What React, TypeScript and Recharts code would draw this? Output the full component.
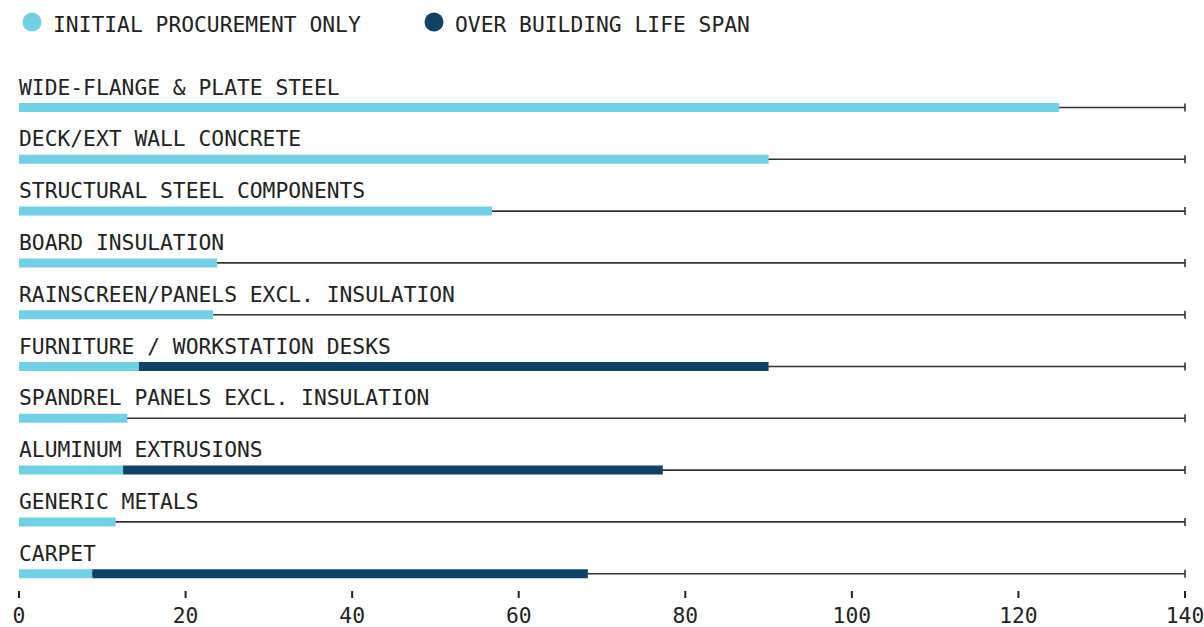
import React from "react";
import { BarChart, Bar, XAxis, YAxis, Legend, LabelList } from "recharts";

const categories = [
  "WIDE-FLANGE & PLATE STEEL",
  "DECK/EXT WALL CONCRETE",
  "STRUCTURAL STEEL COMPONENTS",
  "BOARD INSULATION",
  "RAINSCREEN/PANELS EXCL. INSULATION",
  "FURNITURE / WORKSTATION DESKS",
  "SPANDREL PANELS EXCL. INSULATION",
  "ALUMINUM EXTRUSIONS",
  "GENERIC METALS",
  "CARPET",
];
const initialProcurement = [124.9, 90, 56.8, 23.8, 23.3, 14.4, 13, 12.5, 11.6, 8.8];
const lifeSpan = [124.9, 90, 56.8, 23.8, 23.3, 90, 13, 77.3, 11.6, 68.3];
const xTicks = [0, 20, 40, 60, 80, 100, 120, 140];

const LIGHT = "#72cfe4";
const DARK = "#0f4266";
const INK = "#222";
const FONT = "'DejaVu Sans Mono', 'Liberation Mono', monospace";
const FS = 21.3;

const data = categories.map((name, i) => ({
  name,
  initial: initialProcurement[i],
  extra: lifeSpan[i] - initialProcurement[i],
}));

const RowLine = (props: any) => {
  const { x, y, width, height } = props;
  const cy = y + height / 2;
  return (
    <g>
      <line x1={x} x2={x + width} y1={cy} y2={cy} stroke="#333" strokeWidth={1.6} />
      <line x1={x + width} x2={x + width} y1={cy - 4} y2={cy + 4} stroke="#333" strokeWidth={1.6} />
    </g>
  );
};

const RowLabel = (props: any) => {
  const { x, y, value } = props;
  return (
    <text x={x} y={y - 8.5} fill={INK} fontSize={FS} fontFamily={FONT}>
      {value}
    </text>
  );
};

const AxisTick = (props: any) => {
  const { x, y, payload } = props;
  return (
    <g>
      <line x1={x} x2={x} y1={y - 9} y2={y - 2} stroke={INK} strokeWidth={2} />
      <text x={x} y={y + 23} textAnchor="middle" fill={INK} fontSize={FS} fontFamily={FONT}>
        {payload.value}
      </text>
    </g>
  );
};

const LegendContent = () => {
  const items = [
    { label: "INITIAL PROCUREMENT ONLY", color: LIGHT, x: 32 },
    { label: "OVER BUILDING LIFE SPAN", color: DARK, x: 434 },
  ];
  return (
    <svg width={1204} height={44} style={{ display: "block" }}>
      {items.map((it) => (
        <g key={it.label}>
          <circle cx={it.x} cy={22} r={9.5} fill={it.color} />
          <text x={it.x + 21} y={32} fill={INK} fontSize={FS} fontFamily={FONT}>
            {it.label}
          </text>
        </g>
      ))}
    </svg>
  );
};

export default function App() {
  return (
    <div style={{ position: "absolute", left: 0, top: 0, width: 1204, height: 627, background: "#fff" }}>
      <BarChart
        width={1204}
        height={627}
        data={data}
        layout="vertical"
        margin={{ top: 38, right: 19, bottom: 0, left: 19 }}
        barSize={9}
      >
        <Legend
          verticalAlign="top"
          align="left"
          content={<LegendContent />}
          wrapperStyle={{ top: 0, left: 0, height: 44 }}
        />
        <XAxis
          type="number"
          domain={[0, 140]}
          ticks={xTicks}
          axisLine={false}
          tickLine={false}
          tickSize={0}
          tickMargin={0}
          height={27}
          tick={<AxisTick />}
          interval={0}
        />
        <YAxis type="category" dataKey="name" hide width={0} />
        <Bar
          dataKey="initial"
          stackId="a"
          fill={LIGHT}
          background={<RowLine />}
          isAnimationActive={false}
        >
          <LabelList dataKey="name" content={<RowLabel />} />
        </Bar>
        <Bar dataKey="extra" stackId="a" fill={DARK} isAnimationActive={false} />
      </BarChart>
    </div>
  );
}
